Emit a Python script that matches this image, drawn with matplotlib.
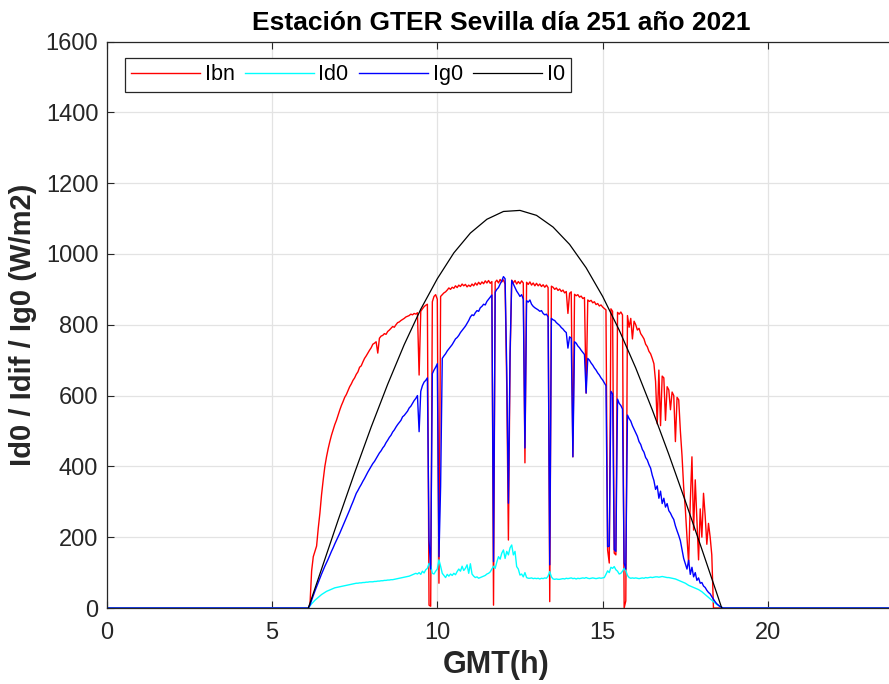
"""
Irradiancia diaria, estación GTER Sevilla, día 251 de 2021
"""

import numpy as np
import matplotlib
matplotlib.use('Agg')
import matplotlib.pyplot as plt

# muestreo diurno cada 0.05 h (6.00 ... 19.00), fuera de ese tramo todo vale 0
t_day = np.round(np.arange(6.0, 19.0001, 0.05), 2)

# Ibn (directa normal), una fila por hora
ibn = [
    0, 0, 0, 10, 105, 145, 160, 175, 225, 268, 320, 362, 400, 427, 450, 470, 488, 503, 518, 530,
    545, 559, 572, 583, 595, 603, 614, 625, 633, 643, 650, 660, 667, 680, 684, 695, 705, 712, 720, 728,
    735, 745, 748, 752, 720, 762, 768, 770, 775, 773, 781, 785, 790, 795, 793, 800, 806, 808, 812, 815,
    818, 822, 824, 826, 830, 828, 832, 830, 834, 658, 838, 845, 851, 855, 858, 8, 5, 865, 880, 885,
    872, 70, 880, 885, 890, 893, 898, 904, 900, 906, 903, 910, 905, 912, 908, 915, 910, 914, 907, 912,
    908, 915, 910, 918, 912, 920, 914, 921, 916, 924, 918, 925, 917, 922, 8, 920, 926, 918, 928, 921,
    927, 915, 625, 192, 700, 926, 918, 925, 915, 922, 916, 924, 918, 410, 920, 914, 921, 912, 918, 910,
    917, 910, 915, 908, 913, 906, 912, 905, 18, 909, 906, 900, 904, 897, 901, 894, 898, 890, 894, 832,
    889, 893, 427, 886, 882, 885, 878, 881, 874, 877, 607, 870, 866, 869, 862, 865, 857, 860, 853, 856,
    850, 846, 842, 164, 127, 845, 838, 155, 150, 835, 830, 836, 828, 0, 20, 826, 793, 818, 760, 810,
    800, 785, 790, 775, 768, 760, 745, 738, 725, 718, 705, 690, 640, 520, 672, 515, 655, 650, 530, 625,
    616, 560, 610, 600, 470, 595, 588, 500, 430, 340, 280, 200, 126, 300, 427, 220, 362, 250, 136, 280,
    200, 324, 260, 180, 239, 201, 150, 0, 0, 0, 0, 0, 0, 0, 0, 0, 0, 0, 0, 0,
    0,
]

# Id0 (difusa horizontal)
id0 = [
    0, 0, 0, 6, 12, 17, 22, 26, 30, 34, 38, 41, 44, 47, 49, 51, 53, 55, 57, 58,
    59, 60, 61, 62, 63, 64, 65, 66, 67, 68, 69, 70, 70, 71, 71, 72, 72, 73, 73, 74,
    74, 74, 75, 75, 76, 76, 77, 77, 78, 78, 79, 79, 80, 80, 81, 82, 83, 84, 85, 86,
    87, 88, 89, 90, 92, 94, 96, 98, 96, 100, 95, 104, 99, 108, 112, 126, 120, 98, 96, 104,
    110, 136, 118, 98, 92, 86, 95, 90, 96, 92, 98, 94, 103, 110, 104, 118, 106, 112, 122, 98,
    125, 96, 90, 86, 88, 84, 86, 88, 90, 92, 96, 98, 102, 110, 118, 112, 130, 145, 138, 155,
    164, 140, 160, 150, 170, 178, 150, 160, 117, 110, 93, 96, 88, 100, 86, 84, 84, 85, 83, 84,
    83, 84, 82, 84, 83, 85, 84, 90, 103, 88, 82, 81, 82, 81, 81, 82, 83, 82, 84, 83,
    84, 85, 83, 84, 82, 84, 83, 84, 85, 84, 86, 84, 83, 84, 85, 84, 83, 84, 85, 84,
    85, 86, 95, 105, 100, 115, 112, 117, 108, 104, 96, 98, 104, 112, 106, 92, 86, 84, 85, 84,
    85, 84, 83, 84, 85, 84, 86, 85, 86, 87, 86, 87, 88, 88, 87, 88, 89, 88, 87, 86,
    86, 85, 84, 83, 82, 80, 78, 76, 74, 72, 70, 67, 64, 62, 60, 58, 56, 54, 52, 49,
    46, 42, 38, 34, 30, 26, 22, 18, 14, 10, 7, 4, 2, 0, 0, 0, 0, 0, 0, 0,
    0,
]

# Ig0 (global horizontal)
ig0 = [
    0, 0, 0, 8, 22, 35, 48, 60, 72, 84, 96, 107, 118, 128, 138, 149, 160, 170, 181, 191,
    201, 211, 222, 233, 244, 255, 266, 277, 289, 300, 312, 324, 332, 341, 349, 358, 366, 375, 384, 392,
    400, 408, 414, 422, 430, 438, 444, 452, 458, 467, 474, 482, 488, 497, 503, 511, 518, 524, 530, 540,
    544, 550, 556, 565, 570, 578, 586, 592, 600, 498, 612, 628, 638, 643, 650, 190, 110, 662, 672, 680,
    690, 145, 343, 705, 712, 718, 726, 732, 738, 744, 752, 760, 764, 770, 778, 784, 790, 796, 804, 812,
    822, 828, 826, 834, 840, 838, 848, 852, 858, 856, 866, 872, 878, 884, 131, 892, 900, 905, 915, 924,
    936, 930, 672, 296, 720, 925, 915, 905, 895, 888, 880, 885, 872, 452, 868, 864, 870, 858, 852, 848,
    845, 842, 838, 840, 832, 828, 830, 822, 122, 818, 814, 812, 806, 802, 798, 792, 788, 782, 778, 734,
    766, 762, 427, 752, 748, 740, 735, 728, 722, 716, 607, 705, 700, 692, 686, 678, 672, 664, 658, 650,
    644, 636, 628, 173, 175, 612, 605, 165, 160, 590, 578, 572, 562, 127, 110, 545, 535, 528, 515, 505,
    495, 485, 470, 462, 448, 440, 425, 418, 405, 395, 375, 360, 335, 345, 310, 330, 295, 310, 285, 295,
    275, 268, 258, 250, 232, 218, 205, 190, 165, 140, 125, 110, 135, 95, 115, 88, 100, 78, 85, 70,
    72, 62, 58, 50, 44, 40, 32, 25, 18, 12, 8, 4, 2, 0, 0, 0, 0, 0, 0, 0,
    0,
]

# I0 (extraterrestre horizontal)
t_i0 = [6.10, 6.5, 7.0, 7.5, 8.0, 8.5, 9.0, 9.5, 10.0, 10.5, 11.0, 11.5, 12.0, 12.5,
        13.0, 13.5, 14.0, 14.5, 15.0, 15.5, 16.0, 16.5, 17.0, 17.5, 18.0, 18.5, 18.60]
i0 = [0, 110, 248, 382, 511, 632, 744, 844, 930, 1003, 1059, 1098, 1120, 1123,
      1109, 1076, 1027, 961, 880, 785, 678, 560, 434, 302, 166, 28, 0]

series_names = ['Ibn', 'Id0', 'Ig0', 'I0']


def main():
    t = np.concatenate([[0.0], t_day, [24.0]])
    pad = lambda v: np.concatenate([[0], v, [0]])

    plt.rcParams['font.family'] = ['Liberation Sans', 'DejaVu Sans']
    fig = plt.figure(figsize=(8.89, 6.84), dpi=100)
    ax = fig.add_axes([0.1199, 0.1111, 0.8928, 0.8282])

    ax.plot(t, pad(ibn), color='#ff0000', lw=1.0, label=series_names[0])
    ax.plot(t, pad(id0), color='#00ffff', lw=1.0, label=series_names[1])
    ax.plot(t, pad(ig0), color='#0000ff', lw=1.0, label=series_names[2])
    ax.plot(t_i0, i0, color='#000000', lw=0.9, label=series_names[3])

    ax.set_xlim(0, 24)
    ax.set_ylim(0, 1600)
    ax.set_xticks([0, 5, 10, 15, 20])
    ax.set_yticks(range(0, 1601, 200))
    ax.grid(True, color='#e3e3e3', lw=0.9)
    ax.set_axisbelow(True)

    ax.tick_params(direction='in', length=5, width=0.8, color='#262626',
                   labelcolor='#262626', labelsize=17, top=True, right=True, pad=6)
    ax.tick_params(axis='x', pad=10)
    for s in ax.spines.values():
        s.set_color('#262626')
        s.set_linewidth(0.9)

    ax.set_title('Estación GTER Sevilla día 251 año 2021', fontsize=19,
                 fontweight='bold', pad=8, x=0.497)
    ax.set_xlabel('GMT(h)', fontsize=22, fontweight='bold', color='#262626',
                  labelpad=6)
    ax.xaxis.set_label_coords(0.491, -0.075)
    ax.set_ylabel('Id0 / Idif / Ig0 (W/m2)', fontsize=21, fontweight='bold',
                  color='#262626', labelpad=6)

    leg = ax.legend(loc='upper left', bbox_to_anchor=(0.0232, 0.971), ncol=4,
                    fontsize=15.5, frameon=True, fancybox=False, framealpha=1,
                    edgecolor='#262626', borderpad=0.3, handlelength=3.2,
                    handletextpad=0.2, columnspacing=0.5, borderaxespad=0)
    leg.get_frame().set_linewidth(0.9)

    fig.savefig('out.png', dpi=100)


if __name__ == '__main__':
    main()
